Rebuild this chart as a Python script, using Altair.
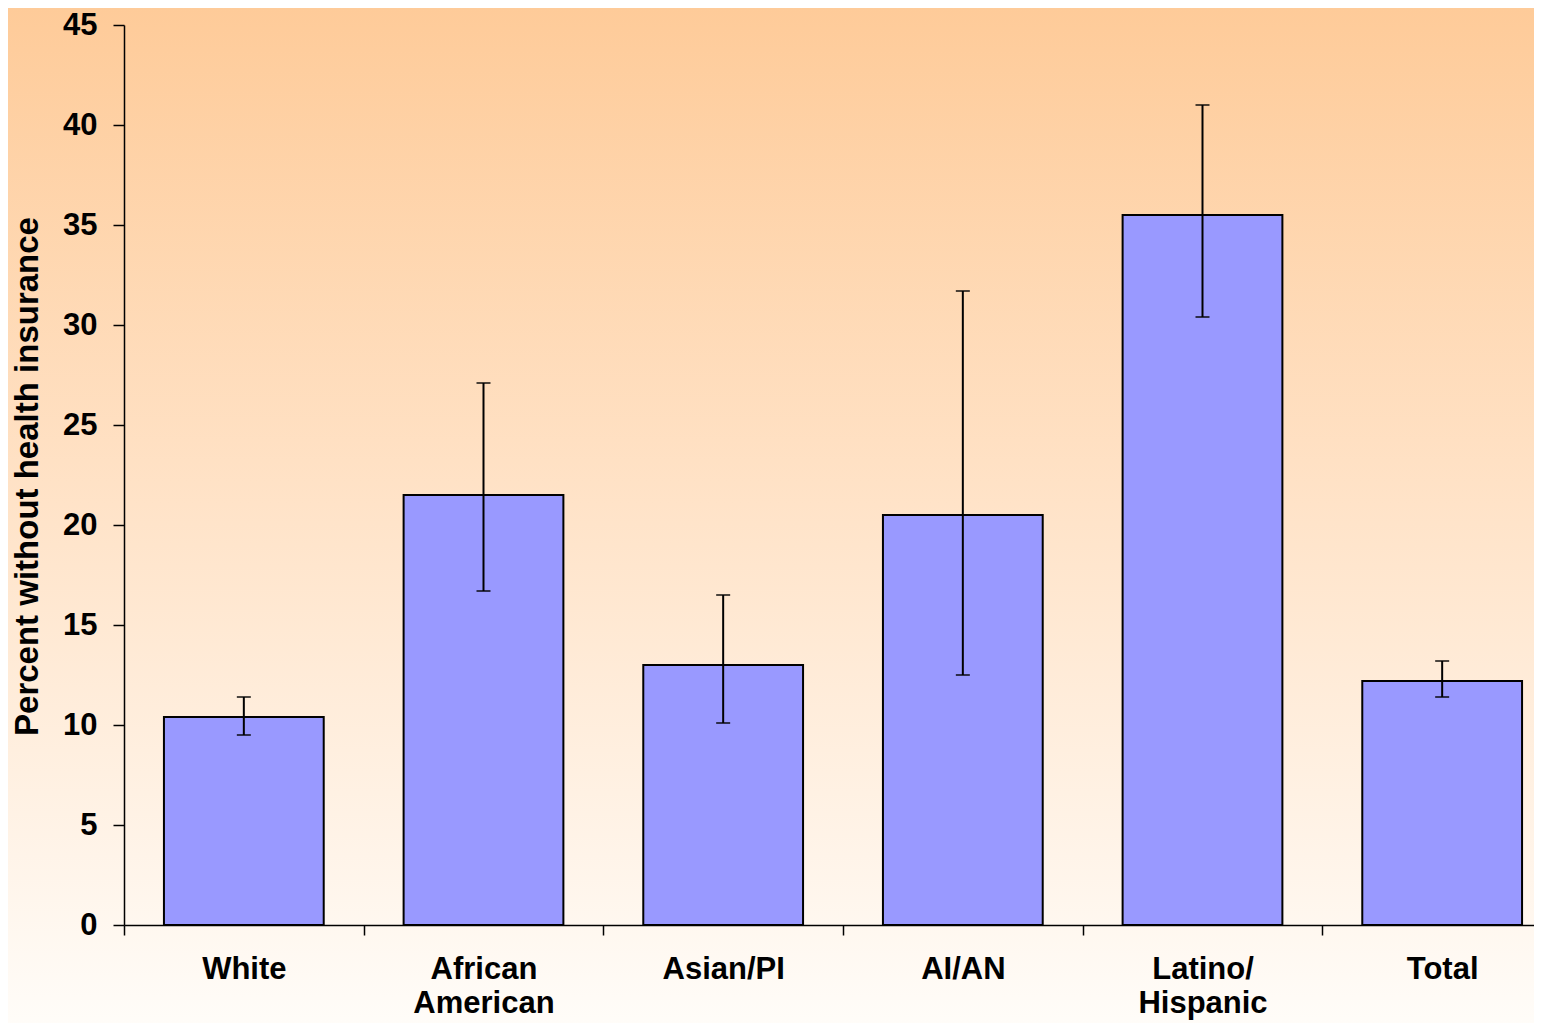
import altair as alt
import pandas as pd

categories = ["White", "African American", "Asian/PI", "AI/AN", "Latino/Hispanic", "Total"]
values = [10.4, 21.5, 13.0, 20.5, 35.5, 12.2]
err_low = [9.5, 16.7, 10.1, 12.5, 30.4, 11.4]
err_high = [11.4, 27.1, 16.5, 31.7, 41.0, 13.2]
y_ticks = [0, 5, 10, 15, 20, 25, 30, 35, 40, 45]

df = pd.DataFrame({"category": categories, "value": values, "lo": err_low, "hi": err_high})

FONT = "Liberation Sans"

label_expr = ("datum.label == 'African American' ? ['African', 'American'] : "
              "datum.label == 'Latino/Hispanic' ? ['Latino/', 'Hispanic'] : datum.label")

x_axis = alt.Axis(
    title=None, labelAngle=0, labelExpr=label_expr, labelFont=FONT, labelFontSize=31,
    labelFontWeight="bold", labelColor="black", labelLineHeight=34, labelPadding=19,
    tickBand="extent", tickSize=10, tickColor="black", tickWidth=1.5,
    domainColor="black", domainWidth=1.5, grid=False, zindex=1,
)
y_axis = alt.Axis(
    title="Percent without health insurance", values=y_ticks, labelFont=FONT, labelFontSize=31,
    labelFontWeight="bold", labelColor="black", labelPadding=16,
    tickSize=11, tickColor="black", tickWidth=1.5, domainColor="black", domainWidth=1.5,
    grid=False, zindex=1, titleFont=FONT, titleFontSize=33, titleFontWeight="bold",
    titleColor="black", titleAngle=270, titleBaseline="alphabetic", titleAlign="center",
    titleX=-87, titleY=451,
)

x_enc = alt.X("category:N", sort=categories,
              scale=alt.Scale(range=[0, 1438], paddingInner=0, paddingOuter=0),
              axis=x_axis)
y_scale = alt.Scale(domain=[0, 45], nice=False, zero=True)

bg = alt.Chart(pd.DataFrame({"bg": [0]})).mark_rect(
    fill={
        "gradient": "linear",
        "x1": 0, "y1": 0, "x2": 0, "y2": 1,
        "stops": [
            {"offset": 0, "color": "#FECB99"},
            {"offset": 0.5, "color": "#FFE4CA"},
            {"offset": 1, "color": "#FFFDFA"},
        ],
    },
    strokeWidth=0,
).encode(
    x=alt.value(-116), x2=alt.value(1500), y=alt.value(-17), y2=alt.value(1015)
)

base = alt.Chart(df)

bars = base.mark_bar(color="#9999FF", stroke="black", strokeWidth=2,
                     width=alt.RelativeBandSize(band=2 / 3)).encode(
    x=x_enc,
    y=alt.Y("value:Q", scale=y_scale, axis=y_axis),
)

rules = base.mark_rule(color="black", strokeWidth=2).encode(
    x=x_enc,
    y=alt.Y("lo:Q", scale=y_scale, axis=y_axis),
    y2="hi:Q",
)

caps_lo = base.mark_tick(color="black", size=14, thickness=2).encode(
    x=x_enc, y=alt.Y("lo:Q", scale=y_scale, axis=y_axis)
)
caps_hi = base.mark_tick(color="black", size=14, thickness=2).encode(
    x=x_enc, y=alt.Y("hi:Q", scale=y_scale, axis=y_axis)
)

chart = alt.layer(bg, bars, rules, caps_lo, caps_hi).properties(
    width=1410,
    height=900,
    padding={"left": 116, "top": 17, "right": 0, "bottom": 98},
    autosize=alt.AutoSizeParams(type="none"),
    background="white",
).configure_view(stroke=None)

chart.save("out.html", embed_options={"renderer": "svg", "actions": False})
